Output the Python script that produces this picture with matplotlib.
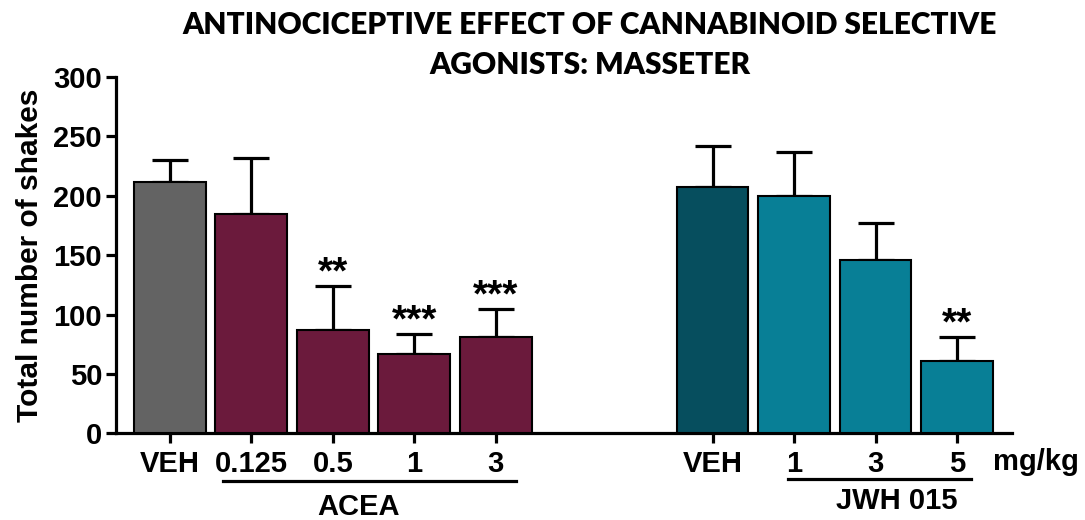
import matplotlib.pyplot as plt
from matplotlib.transforms import blended_transform_factory

# tiempos de sacudidas: ACEA y JWH 015
dosis_acea = ["VEH", "0.125", "0.5", "1", "3"]
media_acea = [212, 185, 87, 67, 81]
sem_acea = [18, 47, 37, 17, 24]
sig_acea = ["", "", "**", "***", "***"]

dosis_jwh = ["VEH", "1", "3", "5"]
media_jwh = [207, 200, 146, 61]
sem_jwh = [35, 37, 31, 20]
sig_jwh = ["", "", "", "**"]

colores_acea = ["#636363"] + ["#6b1a3c"] * 4
colores_jwh = ["#064e5e"] + ["#087f96"] * 3

pos_acea = [0, 1, 2, 3, 4]
pos_jwh = [6.66, 7.66, 8.66, 9.66]

fuente = "Liberation Sans"
plt.rcParams["font.family"] = fuente
plt.rcParams["font.weight"] = "bold"

fig = plt.figure(figsize=(10.85, 5.2), dpi=100)
ax = fig.add_axes([116 / 1085, 86.7 / 520, 895.7 / 1085, 356.3 / 520])

pos = pos_acea + pos_jwh
medias = media_acea + media_jwh
sems = sem_acea + sem_jwh
ax.bar(pos, medias, width=0.88, color=colores_acea + colores_jwh,
       edgecolor="black", linewidth=1.5, zorder=3)
ax.errorbar(pos, medias, yerr=[[0] * len(sems), sems], fmt="none",
            ecolor="black", elinewidth=2.3, capsize=13, capthick=2.3, zorder=2)

for x, m, s, txt in zip(pos, medias, sems, sig_acea + sig_jwh):
    if txt:
        ax.text(x, m + s + 2, txt, ha="center", va="baseline",
                fontsize=28, fontweight="bold")

ax.set_xlim(-0.66, 10.33)
ax.set_ylim(0, 300)
ax.set_yticks(range(0, 301, 50))
ax.set_xticks(pos)
ax.set_xticklabels(dosis_acea + dosis_jwh)
ax.tick_params(axis="both", labelsize=21, width=2.3, length=7, direction="out")
ax.tick_params(axis="x", pad=5)
ax.tick_params(axis="y", pad=3)
for lab in ax.get_xticklabels() + ax.get_yticklabels():
    lab.set_fontweight("bold")

for lado in ["top", "right"]:
    ax.spines[lado].set_visible(False)
for lado in ["left", "bottom"]:
    ax.spines[lado].set_linewidth(2.3)

ax.set_ylabel("Total number of shakes", fontsize=21.5, fontweight="bold", labelpad=7)

# lineas de grupo bajo las dosis
trans = blended_transform_factory(ax.transData, ax.transAxes)
ax.plot([0.65, 4.25], [-0.135, -0.135], color="black", lw=2.3,
        transform=trans, clip_on=False)
ax.plot([7.58, 9.83], [-0.128, -0.128], color="black", lw=2.3,
        transform=trans, clip_on=False)
ax.text(2.32, -0.208, "ACEA", transform=trans, ha="center", va="center",
        fontsize=21, fontweight="bold")
ax.text(8.92, -0.19, "JWH 015", transform=trans, ha="center", va="center",
        fontsize=21, fontweight="bold")
ax.text(10.63, -0.08, "mg/kg", transform=trans, ha="center", va="center",
        fontsize=21, fontweight="bold")

fig.text(590 / 1085, 1 - 45 / 520,
         "ANTINOCICEPTIVE EFFECT OF CANNABINOID SELECTIVE\nAGONISTS: MASSETER",
         ha="center", va="center", fontsize=21.5, fontweight="heavy",
         family="Lato", linespacing=1.5)

fig.savefig("out.png", dpi=100)
